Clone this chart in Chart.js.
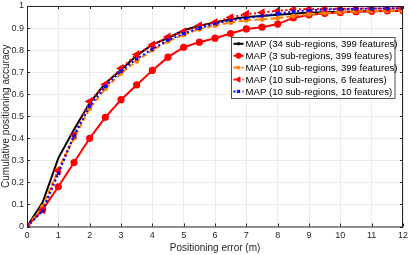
<!DOCTYPE html>
<html>
<head>
<meta charset="utf-8">
<script src="https://cdn.jsdelivr.net/npm/chart.js@4/dist/chart.umd.min.js"></script>
<style>
html,body{margin:0;padding:0;background:#fff;}
canvas{display:block;}
</style>
</head>
<body>
<canvas id="c" width="409" height="255"></canvas>
<script>
// Positioning error (m), sampled every 0.5 m
const errorsM = [0,0.5,1,1.5,2,2.5,3,3.5,4,4.5,5,5.5,6,6.5,7,7.5,8,8.5,9,9.5,10,10.5,11,11.5,12];
const xTicks = [0,1,2,3,4,5,6,7,8,9,10,11,12];
const yTicks = [0,0.1,0.2,0.3,0.4,0.5,0.6,0.7,0.8,0.9,1];

const map34_399 = [0,0.11,0.31,0.44,0.56,0.65,0.71,0.775,0.825,0.855,0.89,0.91,0.925,0.94,0.95,0.955,0.96,0.965,0.97,0.972,0.974,0.975,0.976,0.977,0.978];
const map3_399  = [0,0.077,0.18,0.29,0.40,0.495,0.575,0.642,0.708,0.768,0.813,0.836,0.854,0.875,0.896,0.904,0.918,0.946,0.96,0.966,0.971,0.974,0.976,0.978,0.979];
const map10_399 = [0,0.09,0.26,0.40,0.535,0.625,0.695,0.75,0.80,0.84,0.87,0.895,0.912,0.925,0.935,0.94,0.945,0.955,0.963,0.968,0.972,0.975,0.977,0.978,0.979];
const map10_6   = [0,0.075,0.253,0.415,0.567,0.645,0.717,0.78,0.824,0.86,0.884,0.911,0.926,0.948,0.963,0.97,0.978,0.984,0.986,0.987,0.988,0.988,0.989,0.989,0.99];
const map10_10  = [0,0.07,0.24,0.41,0.545,0.635,0.705,0.76,0.805,0.845,0.875,0.9,0.92,0.935,0.945,0.955,0.965,0.975,0.98,0.984,0.986,0.987,0.988,0.989,0.99];

const labels = [
  'MAP (34 sub-regions, 399 features)',
  'MAP (3 sub-regions, 399 features)',
  'MAP (10 sub-regions, 399 features)',
  'MAP (10 sub-regions, 6 features)',
  'MAP (10 sub-regions, 10 features)'
];

function pts(arr){ return errorsM.map((x,i)=>({x:x,y:arr[i]})); }

const AX = '#262626';
const FONT = '"Liberation Sans", Arial, Helvetica, sans-serif';

const datasets = [
  {label:labels[0], data:pts(map34_399), borderColor:'#000000', backgroundColor:'#000000', borderWidth:2,
   pointStyle:'circle', pointRadius:0, legendRadius:1.2, order:5},
  {label:labels[1], data:pts(map3_399), borderColor:'#ff0000', backgroundColor:'#ff0000', borderWidth:2,
   pointStyle:'circle', pointRadius:2.6, order:4},
  {label:labels[2], data:pts(map10_399), borderColor:'#ff8000', backgroundColor:'#ff8000', borderWidth:2,
   borderDash:[5,3], pointStyle:'circle', pointRadius:1.5, order:3},
  {label:labels[3], data:pts(map10_6), borderColor:'#ff0000', backgroundColor:'#ff0000', borderWidth:2,
   borderDash:[2,2.5], pointStyle:'triangle', rotation:-90, pointRadius:3, order:2},
  {label:labels[4], data:pts(map10_10), borderColor:'#0000ff', backgroundColor:'#0000ff', borderWidth:2,
   borderDash:[2,2.5], pointStyle:'crossRot', pointRadius:2, pointBorderWidth:1.5, order:1}
];

const boxPlugin = {
  id:'box',
  afterDatasetsDraw(chart){
    const {ctx, chartArea:a} = chart;
    const xs = chart.scales.x, ys = chart.scales.y;
    ctx.save();
    ctx.strokeStyle = AX; ctx.lineWidth = 1;
    ctx.strokeRect(a.left+0.5, a.top+0.5, a.right-a.left-1, a.bottom-a.top);
    ctx.beginPath();
    xTicks.forEach(v=>{
      const px = Math.round(xs.getPixelForValue(v))+0.5;
      ctx.moveTo(px, a.bottom); ctx.lineTo(px, a.bottom-3);
      ctx.moveTo(px, a.top); ctx.lineTo(px, a.top+3);
    });
    yTicks.forEach(v=>{
      const py = Math.round(ys.getPixelForValue(v))+0.5;
      ctx.moveTo(a.left, py); ctx.lineTo(a.left+3, py);
      ctx.moveTo(a.right, py); ctx.lineTo(a.right-3, py);
    });
    ctx.stroke();
    ctx.restore();
  },
  afterDraw(chart){
    const ctx = chart.ctx;
    const L = 231.5, T = 37.5, W = 163.5, H = 61;
    ctx.save();
    ctx.fillStyle = '#ffffff';
    ctx.fillRect(L, T, W, H);
    ctx.strokeStyle = AX; ctx.lineWidth = 0.8;
    ctx.strokeRect(L, T, W, H);
    ctx.font = '9.6px ' + FONT;
    ctx.textBaseline = 'middle';
    chart.data.datasets.forEach((ds,i)=>{
      const y = T + 6.3 + i*11.9;
      ctx.strokeStyle = ds.borderColor; ctx.lineWidth = 2;
      ctx.setLineDash(ds.borderDash || []);
      ctx.beginPath(); ctx.moveTo(L+2, y); ctx.lineTo(L+12, y); ctx.stroke();
      ctx.setLineDash([]);
      ctx.fillStyle = ds.backgroundColor; ctx.strokeStyle = ds.borderColor;
      ctx.lineWidth = ds.pointBorderWidth || 1;
      const r = ds.legendRadius != null ? ds.legendRadius : ds.pointRadius;
      if (Chart.helpers && Chart.helpers.drawPoint) {
        Chart.helpers.drawPoint(ctx, {pointStyle:ds.pointStyle, rotation:ds.rotation||0,
          radius:r, borderWidth:ds.pointBorderWidth||1}, L+7, y);
      }
      ctx.fillStyle = '#000000';
      ctx.fillText(ds.label, L+14, y+0.5);
    });
    ctx.restore();
  }
};

new Chart(document.getElementById('c'), {
  type:'line',
  data:{datasets:datasets},
  options:{
    responsive:false,
    animation:false,
    layout:{padding:{top:4, right:6, left:0, bottom:0}},
    plugins:{legend:{display:false}, tooltip:{enabled:false}},
    elements:{line:{tension:0}},
    scales:{
      x:{
        type:'linear', min:0, max:12,
        afterBuildTicks(s){ s.ticks = xTicks.map(v=>({value:v})); },
        afterFit(s){ s.height = 28.5; s.paddingLeft = 0; s.paddingRight = 0; },
        grid:{color:'#ebebeb', drawTicks:false},
        border:{display:false},
        ticks:{padding:4, color:AX, font:{size:9, family:FONT}, maxRotation:0, autoSkip:false,
               callback:(v)=>String(v)},
        title:{display:true, text:'Positioning error (m)', color:AX, font:{size:10, family:FONT}, padding:{top:0,bottom:1}}
      },
      y:{
        type:'linear', min:0, max:1,
        afterBuildTicks(s){ s.ticks = yTicks.map(v=>({value:v})); },
        afterFit(s){ s.width = 27; s.paddingTop = 0; s.paddingBottom = 0; },
        grid:{color:'#ebebeb', drawTicks:false},
        border:{display:false},
        ticks:{padding:3, color:AX, font:{size:9, family:FONT}, autoSkip:false,
               callback:(v)=>String(Math.round(v*10)/10)},
        title:{display:true, text:'Cumulative positioning accuracy', color:AX, font:{size:10, family:FONT}, padding:{top:0,bottom:0}}
      }
    }
  },
  plugins:[boxPlugin]
});
</script>
</body>
</html>
